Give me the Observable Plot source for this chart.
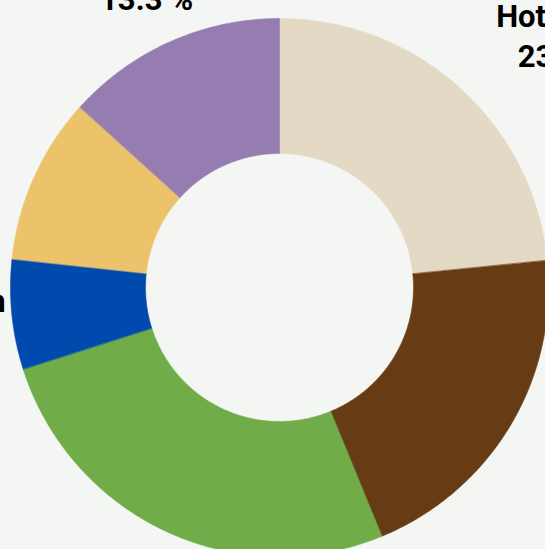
<!DOCTYPE html>
<html>
<head>
<meta charset="utf-8">
<script src="https://cdn.jsdelivr.net/npm/d3@7"></script>
<script src="https://cdn.jsdelivr.net/npm/@observablehq/plot@0.6"></script>
<style>
  html, body { margin: 0; padding: 0; background: #f4f6f3; overflow: hidden; }
  #chart svg { display: block; background: #f4f6f3; }
</style>
</head>
<body>
<div id="chart"></div>
<script>
// ---- data ----
const categories = ["Hotellerie", "Ferienwohnung", "Camping", "Pension", "Jugendherberge", "Sonstige"];
const shares = [23.4, 20.4, 26.3, 6.6, 10.0, 13.3];
const colors = ["#e4d9c4", "#673c14", "#70ac48", "#004aad", "#ecc36a", "#957db2"];

// ---- layout (pixel units, centre of the ring at 0,0) ----
const W = 545, H = 549;
const CX = 279, CY = 287;
const R_OUT = 269, R_IN = 134, R_LABEL = 335;
const labelNudge = { Hotellerie: [60, 5], Ferienwohnung: [130, 0], Jugendherberge: [-90, 0], Sonstige: [3, 4], Pension: [3, 2] };

const total = d3.sum(shares);
let acc = 0;
const slices = categories.map((c, i) => {
  const a0 = acc / total * 2 * Math.PI;
  acc += shares[i];
  const a1 = acc / total * 2 * Math.PI;
  return { category: c, value: shares[i], a0, a1 };
});

// ring outline points for each slice (outer arc forward, inner arc back)
const ring = [];
for (const s of slices) {
  const n = Math.max(2, Math.ceil((s.a1 - s.a0) / (Math.PI / 360)));
  for (let k = 0; k <= n; k++) {
    const a = s.a0 + (s.a1 - s.a0) * k / n;
    ring.push({ category: s.category, x: R_OUT * Math.sin(a), y: R_OUT * Math.cos(a) });
  }
  for (let k = n; k >= 0; k--) {
    const a = s.a0 + (s.a1 - s.a0) * k / n;
    ring.push({ category: s.category, x: R_IN * Math.sin(a), y: R_IN * Math.cos(a) });
  }
}

const labels = slices.map(s => {
  const a = (s.a0 + s.a1) / 2;
  const [nx, ny] = labelNudge[s.category] || [0, 0];
  return {
    category: s.category,
    text: `${s.category}\n${s.value.toFixed(1)} %`,
    x: R_LABEL * Math.sin(a) + nx,
    y: R_LABEL * Math.cos(a) + ny
  };
});

const chart = Plot.plot({
  width: W,
  height: H,
  margin: 0,
  style: { background: "#f4f6f3" },
  x: { domain: [-CX, W - CX], axis: null },
  y: { domain: [-(H - CY), CY], axis: null },
  color: { domain: categories, range: colors },
  marks: [
    Plot.line(ring, {
      x: "x", y: "y", z: "category",
      fill: "category", stroke: "category", strokeWidth: 0.6,
      curve: "linear-closed"
    }),
    Plot.text(labels, {
      x: "x", y: "y", text: "text",
      fontFamily: "Roboto", fontWeight: "bold", fontSize: 31,
      lineHeight: 1.3, fill: "#000", textAnchor: "middle"
    })
  ]
});

document.getElementById("chart").appendChild(chart);
</script>
</body>
</html>
